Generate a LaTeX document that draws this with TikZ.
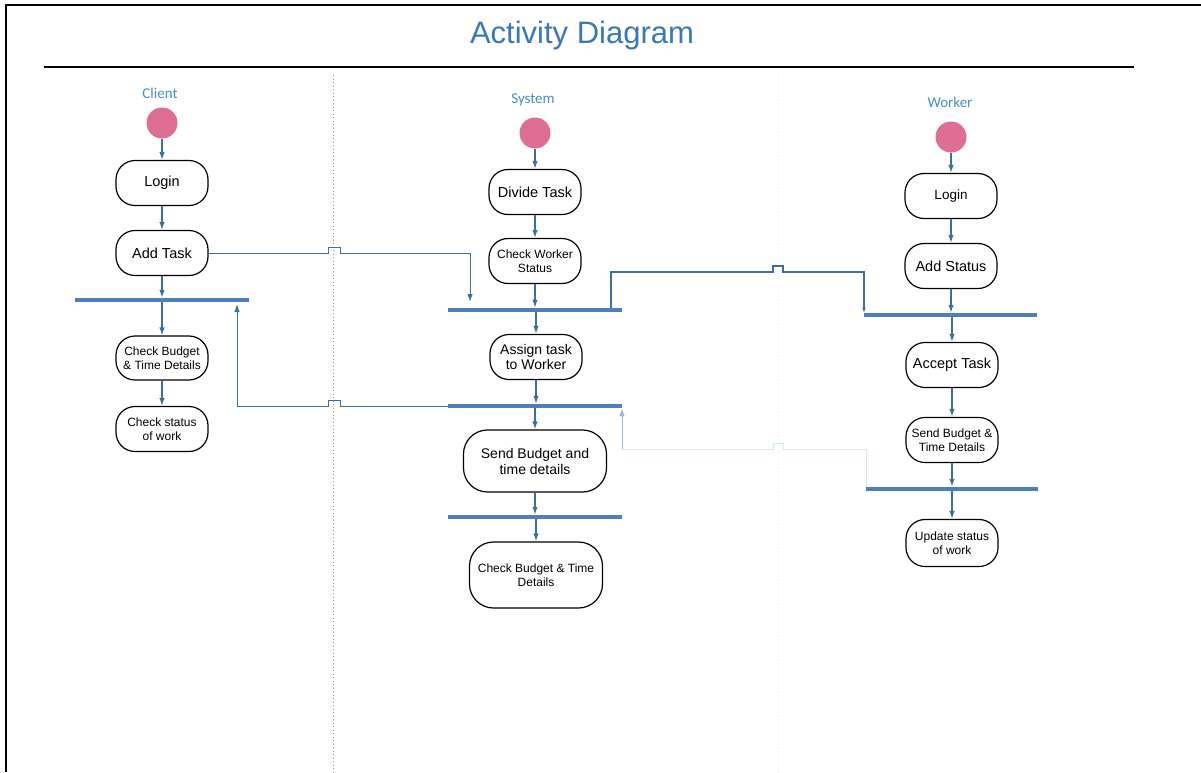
\documentclass[tikz,border=0pt]{standalone}
\usepackage{fontspec}
\setmainfont{Liberation Sans}
\newfontfamily\lanefont{Carlito}
\usetikzlibrary{arrows.meta}

\definecolor{titleblue}{HTML}{3A78B2}
\definecolor{laneblue}{HTML}{4B8BC6}
\definecolor{flowblue}{HTML}{3F6F98}
\definecolor{barblue}{HTML}{4E7FB8}
\definecolor{startpink}{HTML}{DE6E93}
\definecolor{paleflow}{HTML}{D3ECF2}
\definecolor{softflow}{HTML}{9DB9CF}

\tikzset{
  act/.style={draw=black, line width=1.2pt, rounded corners=19pt,
    minimum width=92pt, minimum height=45pt, align=center, inner sep=2pt,
    font=\fontsize{14.5}{16}\selectfont},
  actsmall/.style={act, font=\fontsize{12}{13.5}\selectfont},
  initnode/.style={circle, fill=startpink, draw=none, minimum size=31pt, inner sep=0pt},
  syncbar/.style={fill=barblue, draw=none, minimum width=174pt, minimum height=4.5pt,
    inner sep=0pt, outer sep=0pt},
  flow/.style={draw=flowblue, line width=1.3pt, -{Latex[length=8pt,width=5.5pt]}},
  paleline/.style={draw=paleflow, line width=1pt},
  lanelabel/.style={text=laneblue, font=\lanefont\fontsize{15}{16}\selectfont},
  lanesep/.style={draw=gray!85, line width=0.9pt, dash pattern=on 1pt off 2.5pt},
}

\begin{document}
\begin{tikzpicture}[x=1pt, y=-1pt]
\useasboundingbox (0,0) rectangle (1201,772);

% frame and title
\draw[line width=1.5pt] (1201,5) -- (6,5) -- (6,772);
\node[font=\fontsize{31}{34}\selectfont, text=titleblue] (title) at (582,35) {Activity Diagram};
\draw[line width=1.2pt] (44,67) -- (1134,67);

% swimlane separators
\draw[lanesep] (333,75) -- (333,772);
\draw[lanesep, draw=gray!15] (778,75) -- (778,772);

% ---------- Client ----------
\node[lanelabel] (lc) at (160,93) {Client};
\node[initnode] (c0) at (162,123) {};
\node[act] (c1) at (162,183) {Login};
\node[act] (c2) at (162,253) {Add Task};
\node[syncbar] (cb) at (162,300) {};
\node[actsmall, minimum height=44pt] (c3) at (162,358) {Check Budget\\\& Time Details};
\node[actsmall] (c4) at (162,429) {Check status\\of work};

% ---------- System ----------
\node[lanelabel] (ls) at (533,100) {System};
\node[initnode] (s0) at (535,133) {};
\node[act] (s1) at (535,192) {Divide Task};
\node[actsmall] (s2) at (535,261) {Check Worker\\Status};
\node[syncbar] (sb1) at (535,310) {};
\node[act, font=\fontsize{14}{15}\selectfont] (s3) at (536,357) {Assign task\\to Worker};
\node[syncbar] (sb2) at (535,406) {};
\node[act, minimum width=143pt, minimum height=62pt, rounded corners=24pt,
      font=\fontsize{14}{16}\selectfont] (s4) at (535,461) {Send Budget and\\time details};
\node[syncbar] (sb3) at (535,517) {};
\node[actsmall, minimum width=133pt, minimum height=66pt, rounded corners=24pt]
      (s5) at (536,575) {Check Budget \& Time\\Details};

% ---------- Worker ----------
\node[lanelabel] (lw) at (950,102) {Worker};
\node[initnode] (w0) at (951,137) {};
\node[act, font=\fontsize{13.5}{15}\selectfont] (w1) at (951,196) {Login};
\node[act] (w2) at (951,266) {Add Status};
\node[syncbar, minimum width=173pt] (wb1) at (950.5,315) {};
\node[act] (w3) at (952,365) {Accept Task};
\node[actsmall] (w4) at (952,440) {Send Budget \&\\Time Details};
\node[syncbar, minimum width=172pt] (wb2) at (952,489) {};
\node[actsmall, minimum height=47pt] (w5) at (952,543) {Update status\\of work};

% ---------- flows inside lanes ----------
\draw[flow] (c0) -- (c1);
\draw[flow] (c1) -- (c2);
\draw[flow] (c2.south) -- (c2.south |- cb.north);
\draw[flow] (cb.south -| c3) -- (c3);
\draw[flow] (c3) -- (c4);

\draw[flow] (s0) -- (s1);
\draw[flow] (s1) -- (s2);
\draw[flow] (s2.south) -- (s2.south |- sb1.north);
\draw[flow] (sb1.south -| s3) -- (s3);
\draw[flow] (s3.south) -- (s3.south |- sb2.north);
\draw[flow] (sb2.south -| s4) -- (s4);
\draw[flow] (s4.south) -- (s4.south |- sb3.north);
\draw[flow] (sb3.south -| s5) -- (s5);

\draw[flow] (w0) -- (w1);
\draw[flow] (w1) -- (w2);
\draw[flow] (w2.south) -- (w2.south |- wb1.north);
\draw[flow] (wb1.south -| w3) -- (w3);
\draw[flow] (w3) -- (w4);
\draw[flow] (w4.south) -- (w4.south |- wb2.north);
\draw[flow] (wb2.south -| w5) -- (w5);

% ---------- flows across lanes (with hops over the lane lines) ----------
\coordinate (sb1in) at (470,302);
\draw[flow, line width=1pt] (c2.east) -- (328,253) -- (328,247) -- (340,247) -- (340,253)
  -- (470,253) -- (sb1in);

\coordinate (cbin) at (237,304);
\draw[flow, line width=1pt] (sb2.west) -- (340,406) -- (340,400) -- (328,400) -- (328,406)
  -- (237,406) -- (cbin);

\coordinate (sb1out) at (611,308);
\draw[flow, line width=1.1pt, -{Latex[length=5pt,width=4pt]}] (sb1out) -- (611,272) -- (773,272)
  -- (773,266) -- (783,266) -- (783,272) -- (864,272) -- (wb1.north west);

\coordinate (bend) at (622,449);
\draw[paleline] (wb2.north west) -- (866,449) -- (783,449) -- (783,443)
  -- (773,443) -- (773,449) -- (bend);
\draw[flow, line width=1pt, draw=softflow] (bend) -- (sb2.south east);

\end{tikzpicture}
\end{document}
